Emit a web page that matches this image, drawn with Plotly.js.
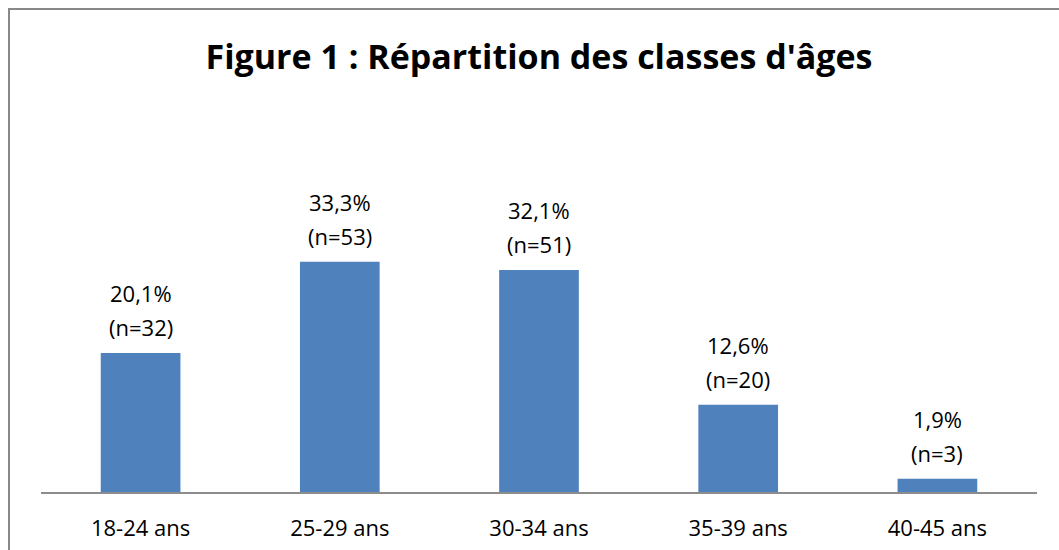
<!DOCTYPE html>
<html>
<head>
<meta charset="utf-8">
<script src="https://cdn.plot.ly/plotly-3.0.1.min.js"></script>
<style>html,body{margin:0;padding:0;background:#fff;}#chart{width:1059px;height:550px;}</style>
</head>
<body>
<div id="chart"></div>
<script>
const categories = ["18-24 ans", "25-29 ans", "30-34 ans", "35-39 ans", "40-45 ans"];
const percents = [20.1, 33.3, 32.1, 12.6, 1.9];
const counts = [32, 53, 51, 20, 3];
const titleText = "Figure 1 : Répartition des classes d'âges";

const W = 1059, H = 550;
const M = {l: 41, r: 22, t: 100, b: 58};
const plotW = W - M.l - M.r, plotH = H - M.t - M.b;
const FONT = "Open Sans, Liberation Sans, sans-serif";
const LBL = 22;

function fmt(v){ return v.toFixed(1).replace('.', ',') + '%'; }

const annotations = [];
categories.forEach((c, i) => {
  annotations.push({x: c, y: percents[i], xref: 'x', yref: 'y', text: fmt(percents[i]),
    showarrow: false, yanchor: 'middle', yshift: 60, font: {family: FONT, size: LBL, color: '#000'}});
  annotations.push({x: c, y: percents[i], xref: 'x', yref: 'y', text: '(n=' + counts[i] + ')',
    showarrow: false, yanchor: 'middle', yshift: 26, font: {family: FONT, size: LBL, color: '#000'}});
});

const px2x = p => (p - M.l) / plotW;
const px2y = p => (H - M.b - p) / plotH;

const trace = {
  type: 'bar', x: categories, y: percents,
  marker: {color: '#4F81BD', line: {width: 0}},
  hoverinfo: 'none'
};

const layout = {
  width: W, height: H,
  margin: M,
  paper_bgcolor: '#fff', plot_bgcolor: '#fff',
  bargap: 0.6,
  showlegend: false,
  separators: ', ',
  title: {text: '<b>' + titleText + '</b>', x: 0.5, xref: 'paper', xanchor: 'center',
    y: 1 - 57/H, yref: 'container', yanchor: 'middle',
    font: {family: FONT, size: 34, color: '#000'}},
  xaxis: {type: 'category', showline: true, linecolor: '#8c8c8c', linewidth: 2,
    ticks: '', showgrid: false, zeroline: false, ticklabelstandoff: 16,
    tickfont: {family: FONT, size: LBL, color: '#000'}, fixedrange: true},
  yaxis: {range: [0, plotH / 6.915], visible: false, showgrid: false, zeroline: false, fixedrange: true},
  annotations: annotations,
  shapes: [{type: 'rect', xref: 'paper', yref: 'paper',
    x0: px2x(9), x1: px2x(1080), y0: px2y(580), y1: px2y(9),
    line: {color: '#888888', width: 2}, fillcolor: 'rgba(0,0,0,0)', layer: 'above'}]
};

Plotly.newPlot('chart', [trace], layout, {displayModeBar: false, staticPlot: true});
</script>
</body>
</html>
